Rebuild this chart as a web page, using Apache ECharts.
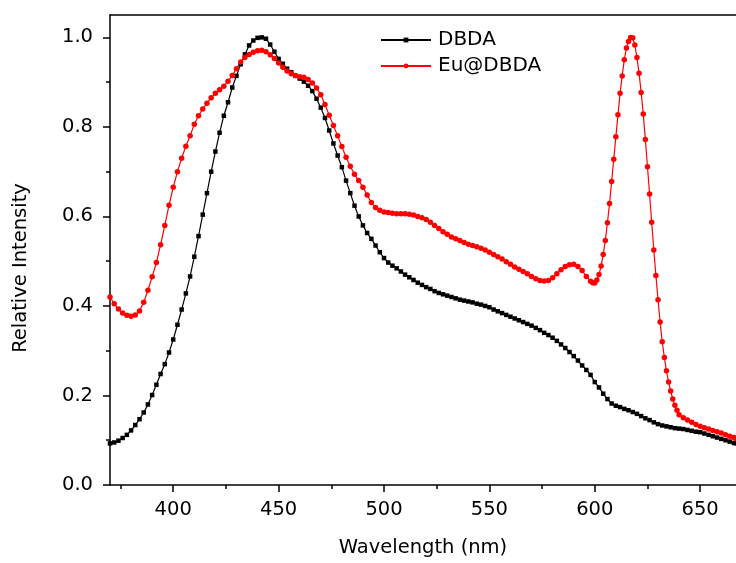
<!DOCTYPE html>
<html>
<head>
<meta charset="utf-8">
<title>DBDA / Eu@DBDA emission</title>
<script src="https://cdn.jsdelivr.net/npm/echarts@6/dist/echarts.min.js"></script>
<style>
    html, body { margin: 0; padding: 0; background: #fff; }
    #chartsmain { width: 736px; height: 563px; }
</style>
</head>
<body>
<div id="chartsmain"></div>
<script>
    // wavelength (nm) and normalised intensity
    var dbdaWl = [370,372,374,376,378,380,382,384,386,388,390,392,394,396,398,
        400,402,404,406,408,410,412,414,416,418,420,422,424,426,428,430,432,434,436,438,
        440,442,444,446,448,450,452,454,456,458,460,462,464,466,468,470,472,474,476,478,
        480,482,484,486,488,490,492,494,496,498,500,502,504,506,508,510,512,514,516,518,
        520,522,524,526,528,530,532,534,536,538,540,542,544,546,548,550,552,554,556,558,
        560,562,564,566,568,570,572,574,576,578,580,582,584,586,588,590,592,594,596,598,
        600,602,604,606,608,610,612,614,616,618,620,622,624,626,628,630,632,634,636,638,
        640,642,644,646,648,650,652,654,656,658,660,662,664,666,667];
    var dbdaVal = [0.093,0.095,0.099,0.105,0.112,0.122,0.134,0.147,0.162,0.180,0.201,0.224,0.248,0.270,0.296,
        0.325,0.358,0.392,0.428,0.466,0.510,0.556,0.604,0.652,0.700,0.745,0.787,0.825,0.855,0.888,0.914,0.940,0.962,0.982,0.993,
        0.999,1.000,0.997,0.984,0.968,0.952,0.941,0.930,0.922,0.914,0.908,0.901,0.892,0.880,0.863,0.843,0.820,0.792,0.763,0.736,
        0.710,0.680,0.652,0.624,0.600,0.580,0.563,0.550,0.535,0.520,0.507,0.497,0.490,0.484,0.477,0.470,0.464,0.458,0.452,0.447,
        0.442,0.438,0.433,0.429,0.426,0.423,0.420,0.417,0.414,0.412,0.410,0.408,0.405,0.403,0.400,0.397,0.392,0.388,0.384,0.380,
        0.376,0.372,0.368,0.364,0.360,0.356,0.351,0.346,0.340,0.335,0.329,0.322,0.314,0.306,0.297,0.288,0.278,0.267,0.257,0.246,
        0.230,0.218,0.204,0.192,0.182,0.177,0.174,0.170,0.167,0.163,0.159,0.154,0.149,0.145,0.140,0.136,0.133,0.131,0.129,0.127,
        0.126,0.125,0.123,0.121,0.119,0.118,0.115,0.112,0.109,0.106,0.103,0.100,0.097,0.094,0.093];

    var euWl = [370,372,374,376,378,380,382,384,386,388,390,392,394,396,398,
        400,402,404,406,408,410,412,414,416,418,420,422,424,426,428,430,432,434,436,438,
        440,442,444,446,448,450,452,454,456,458,460,462,464,466,468,470,472,474,476,478,
        480,482,484,486,488,490,492,494,496,498,500,502,504,506,508,510,512,514,516,518,
        520,522,524,526,528,530,532,534,536,538,540,542,544,546,548,550,552,554,556,558,
        560,562,564,566,568,570,572,574,576,578,580,582,584,586,588,590,592,594,596,598,
        599,600,601,602,603,604,605,606,607,608,609,610,611,612,613,614,615,616,617,618,
        619,620,621,622,623,624,625,626,627,628,629,630,631,632,633,634,635,636,637,638,639,
        640,642,644,646,648,650,652,654,656,658,660,662,664,666,667];
    var euVal = [0.420,0.405,0.393,0.384,0.379,0.377,0.380,0.389,0.408,0.435,0.465,0.497,0.537,0.580,0.625,
        0.665,0.700,0.730,0.757,0.780,0.806,0.825,0.840,0.853,0.865,0.875,0.883,0.891,0.902,0.915,0.930,0.945,0.955,0.962,0.967,
        0.970,0.971,0.968,0.961,0.953,0.943,0.933,0.925,0.919,0.915,0.912,0.911,0.906,0.898,0.887,0.872,0.850,0.826,0.803,0.780,
        0.756,0.732,0.712,0.694,0.680,0.665,0.648,0.631,0.620,0.614,0.610,0.609,0.607,0.606,0.606,0.606,0.605,0.603,0.600,0.597,
        0.593,0.587,0.580,0.573,0.566,0.560,0.554,0.550,0.546,0.542,0.538,0.535,0.532,0.529,0.525,0.520,0.515,0.510,0.505,0.499,
        0.493,0.487,0.482,0.477,0.472,0.466,0.461,0.457,0.456,0.457,0.463,0.472,0.481,0.488,0.492,0.493,0.488,0.479,0.466,0.455,
        0.452,0.451,0.458,0.470,0.489,0.515,0.546,0.586,0.629,0.678,0.728,0.778,0.827,0.875,0.914,0.950,0.976,0.991,1.000,0.999,
        0.983,0.955,0.920,0.877,0.829,0.772,0.711,0.650,0.587,0.525,0.468,0.414,0.364,0.320,0.285,0.255,0.230,0.210,0.192,0.178,0.167,
        0.157,0.150,0.145,0.140,0.135,0.131,0.128,0.125,0.122,0.119,0.116,0.112,0.109,0.106,0.104];

    var wlTicks = [400,450,500,550,600,650];
    var wlMinorTicks = [375,425,475,525,575,625];
    var intTicks = [0,0.2,0.4,0.6,0.8,1.0];
    var intMinorTicks = [0.1,0.3,0.5,0.7,0.9];

    function pairs(xs, ys) {
        return xs.map(function (x, i) { return [x, ys[i]]; });
    }

    var font = '"DejaVu Sans", sans-serif';
    var axisLine = { show: true, lineStyle: { color: '#000', width: 1.5 } };

    var chart = echarts.init(document.getElementById('chartsmain'));
    var option = {
        animation: false,
        textStyle: { fontFamily: font, color: '#000' },
        grid: { left: 110, right: 0, top: 15, bottom: 78, containLabel: false },
        legend: {
            orient: 'vertical',
            left: 375,
            top: 25,
            itemWidth: 50,
            itemHeight: 6,
            itemGap: 6,
            textStyle: { fontFamily: font, fontSize: 20, color: '#000', padding: [0, 0, 0, 2] },
            data: ['DBDA', 'Eu@DBDA']
        },
        xAxis: [
            {
                type: 'value', min: 370, max: 667, position: 'bottom',
                name: 'Wavelength (nm)', nameLocation: 'middle', nameGap: 53,
                nameTextStyle: { fontFamily: font, fontSize: 19.5, color: '#000' },
                axisLine: axisLine,
                axisTick: { show: true, inside: false, length: 7, customValues: wlTicks,
                    lineStyle: { color: '#000', width: 1.5 } },
                axisLabel: { customValues: wlTicks, fontFamily: font, fontSize: 19.5, color: '#000', margin: 15 },
                splitLine: { show: false }
            },
            {
                type: 'value', min: 370, max: 667, position: 'bottom',
                axisLine: { show: false },
                axisTick: { show: true, inside: false, length: 4, customValues: wlMinorTicks,
                    lineStyle: { color: '#000', width: 1.5 } },
                axisLabel: { show: false },
                splitLine: { show: false }
            },
            {
                type: 'value', min: 370, max: 667, position: 'top',
                axisLine: axisLine,
                axisTick: { show: false },
                axisLabel: { show: false },
                splitLine: { show: false }
            }
        ],
        yAxis: [
            {
                type: 'value', min: 0, max: 1.05, position: 'left',
                name: 'Relative Intensity', nameLocation: 'middle', nameGap: 79,
                nameTextStyle: { fontFamily: font, fontSize: 19.5, color: '#000', padding: [0, 36, 0, 0] },
                axisLine: axisLine,
                axisTick: { show: true, inside: false, length: 7, customValues: intTicks,
                    lineStyle: { color: '#000', width: 1.5 } },
                axisLabel: { customValues: intTicks, fontFamily: font, fontSize: 19.5, color: '#000', margin: 17,
                    formatter: function (v) { return v.toFixed(1); } },
                splitLine: { show: false }
            },
            {
                type: 'value', min: 0, max: 1.05, position: 'left',
                axisLine: { show: false },
                axisTick: { show: true, inside: false, length: 4, customValues: intMinorTicks,
                    lineStyle: { color: '#000', width: 1.5 } },
                axisLabel: { show: false },
                splitLine: { show: false }
            }
        ],
        series: [
            {
                name: 'DBDA', type: 'line', xAxisIndex: 0, yAxisIndex: 0,
                data: pairs(dbdaWl, dbdaVal),
                symbol: 'rect', symbolSize: 4.5, showAllSymbol: true,
                lineStyle: { color: '#000', width: 1.2 },
                itemStyle: { color: '#000' },
                emphasis: { disabled: true }
            },
            {
                name: 'Eu@DBDA', type: 'line', xAxisIndex: 0, yAxisIndex: 0,
                data: pairs(euWl, euVal),
                symbol: 'circle', symbolSize: 5.5, showAllSymbol: true,
                lineStyle: { color: '#ff0000', width: 1.2 },
                itemStyle: { color: '#ff0000' },
                emphasis: { disabled: true }
            }
        ]
    };
    chart.setOption(option);
</script>
</body>
</html>
